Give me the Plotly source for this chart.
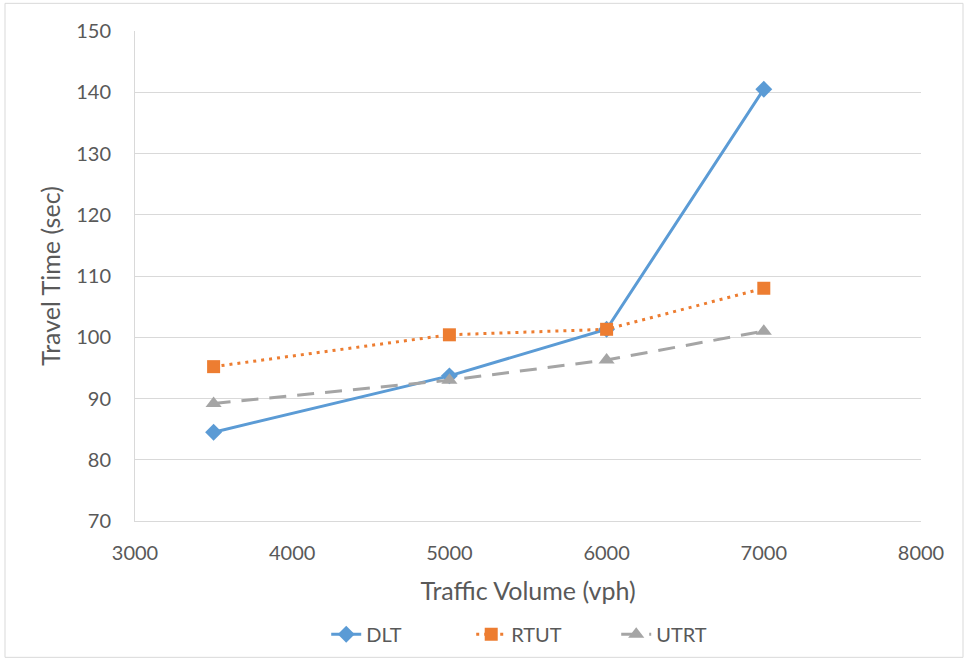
import plotly.graph_objects as go

traffic_volume = [3500, 5000, 6000, 7000]
dlt = [84.5, 93.7, 101.3, 140.5]
rtut = [95.2, 100.4, 101.3, 108.0]
utrt = [89.2, 93.0, 96.3, 101.0]

W, H = 969, 666
L, R, T, B = 135, 48, 31, 139
pw, ph = W - L - R, H - T - B

fig = go.Figure()
fig.add_trace(go.Scatter(x=traffic_volume, y=dlt, name="DLT", mode="lines+markers",
                         line=dict(color="#5B9BD5", width=3),
                         marker=dict(symbol="diamond", size=13, color="#5B9BD5")))
fig.add_trace(go.Scatter(x=traffic_volume, y=rtut, name="RTUT", mode="lines+markers",
                         line=dict(color="#ED7D31", width=3, dash="3px,5px"),
                         marker=dict(symbol="square", size=13, color="#ED7D31")))
fig.add_trace(go.Scatter(x=traffic_volume, y=utrt, name="UTRT", mode="lines+markers",
                         line=dict(color="#A5A5A5", width=3, dash="17px,11px"),
                         marker=dict(symbol="triangle-up", size=14, color="#A5A5A5")))

font_family = "Lato, 'Open Sans', sans-serif"
fig.update_layout(
    width=W, height=H,
    margin=dict(l=L, r=R, t=T, b=B),
    paper_bgcolor="white", plot_bgcolor="white",
    font=dict(family=font_family, color="#595959", size=20),
    showlegend=True,
    legend=dict(orientation="h", x=0.52, xanchor="center", y=-0.231, yanchor="middle",
                font=dict(size=20, color="#595959"), entrywidth=100, entrywidthmode="pixels"),
    xaxis=dict(range=[3000, 8000], dtick=1000, tick0=3000, showgrid=False,
               showline=True, linecolor="#D9D9D9", linewidth=1, zeroline=False,
               ticks="", tickfont=dict(size=20), ticklabelstandoff=14, automargin=False,
               title=dict(text="Traffic Volume (vph)", font=dict(size=25), standoff=19)),
    yaxis=dict(range=[70, 150], dtick=10, tick0=70, showgrid=True, gridcolor="#D9D9D9",
               gridwidth=1, showline=True, linecolor="#D9D9D9", linewidth=1, zeroline=False,
               ticks="", tickfont=dict(size=20), ticklabelstandoff=19, automargin=False,
               title=dict(text="Travel Time (sec)", font=dict(size=25), standoff=8)),
)

fig.add_shape(type="rect", xref="paper", yref="paper",
              x0=(5 - L) / pw, x1=(963 - L) / pw,
              y0=(H - B - 665) / ph, y1=(H - B - 3) / ph,
              line=dict(color="#D9D9D9", width=1), fillcolor="rgba(0,0,0,0)", layer="below")

fig.write_html("out.html", config={"displayModeBar": False},
               post_script="document.body.style.margin='0';document.body.style.overflow='hidden';")
